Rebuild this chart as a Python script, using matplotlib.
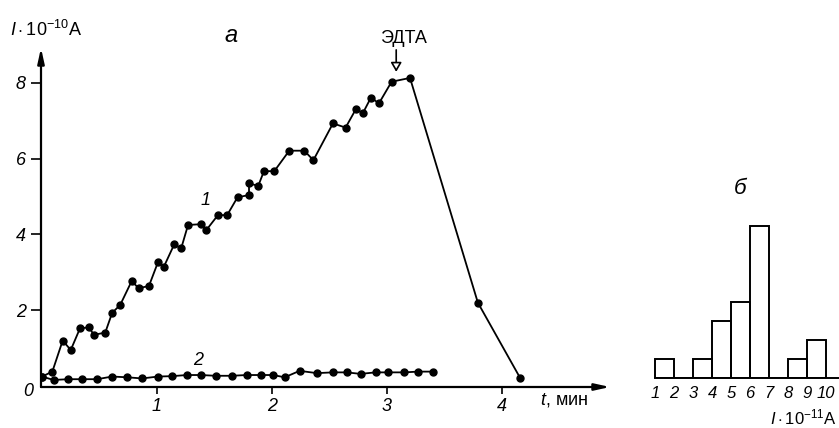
import matplotlib
matplotlib.use("Agg")
import matplotlib.pyplot as plt

plt.rcParams['font.family'] = ['Liberation Sans', 'DejaVu Sans']
plt.rcParams['mathtext.fontset'] = 'custom'
plt.rcParams['mathtext.rm'] = 'Liberation Sans'
plt.rcParams['mathtext.it'] = 'Liberation Sans:italic'

# ---- panel a: current vs time ----
t1 = [0.0, 0.09, 0.18, 0.25, 0.33, 0.41, 0.45, 0.55, 0.61, 0.68, 0.78, 0.84, 0.93,
      1.01, 1.06, 1.15, 1.21, 1.27, 1.38, 1.43, 1.53, 1.61, 1.70, 1.80, 1.80, 1.88,
      1.93, 2.02, 2.15, 2.28, 2.36, 2.53, 2.64, 2.73, 2.79, 2.86, 2.93, 3.04, 3.20,
      3.79, 4.16]
i1 = [0.25, 0.38, 1.20, 0.95, 1.52, 1.55, 1.35, 1.41, 1.93, 2.14, 2.77, 2.58, 2.64,
      3.28, 3.15, 3.74, 3.63, 4.25, 4.27, 4.12, 4.51, 4.51, 4.98, 5.04, 5.35, 5.28,
      5.67, 5.67, 6.21, 6.21, 5.96, 6.93, 6.82, 7.31, 7.20, 7.61, 7.46, 8.03, 8.13,
      2.20, 0.20]
t2 = [0.0, 0.10, 0.23, 0.35, 0.48, 0.61, 0.74, 0.87, 1.01, 1.13, 1.26, 1.38, 1.51,
      1.65, 1.78, 1.90, 2.01, 2.11, 2.24, 2.39, 2.53, 2.65, 2.77, 2.90, 3.01, 3.15,
      3.27, 3.40]
i2 = [0.25, 0.16, 0.18, 0.18, 0.18, 0.25, 0.23, 0.20, 0.25, 0.26, 0.29, 0.29, 0.27,
      0.27, 0.29, 0.29, 0.29, 0.23, 0.40, 0.34, 0.36, 0.36, 0.32, 0.36, 0.36, 0.36,
      0.38, 0.38]
x_ticks = [1, 2, 3, 4]
y_ticks = [2, 4, 6, 8]
edta_t, edta_i = 3.08, 8.29

# ---- panel б: histogram ----
bin_left = [1, 2, 3, 4, 5, 6, 7, 8, 9]
counts = [1, 0, 1, 3, 4, 8, 0, 1, 2]
hist_ticks = [1, 2, 3, 4, 5, 6, 7, 8, 9, 10]

W, H = 839, 428
fig = plt.figure(figsize=(W / 100, H / 100), dpi=100)

def frac(l, r, b, t):
    return [l / W, 1 - b / H, (r - l) / W, (b - t) / H]

ax = fig.add_axes(frac(41, 610, 387, 48))
ax.set_xlim(-0.0087, 4.939)
ax.set_ylim(-0.026, 8.92)
for s in ax.spines.values():
    s.set_visible(False)
lw = 1.3
ax.plot(t1, i1, '-', color='black', lw=lw, marker='o', ms=5, zorder=3)
ax.plot(t2, i2, '-', color='black', lw=lw, marker='o', ms=5, zorder=3)

# axis arrows
ax.annotate('', xy=(1.0, 0), xycoords='axes fraction', xytext=(0, 0),
            arrowprops=dict(arrowstyle='-|>,head_length=0.9,head_width=0.2',
                            color='black', lw=1.6, shrinkA=0, shrinkB=0))
ax.annotate('', xy=(0, 1.0), xycoords='axes fraction', xytext=(0, 0),
            arrowprops=dict(arrowstyle='-|>,head_length=0.9,head_width=0.2',
                            color='black', lw=1.6, shrinkA=0, shrinkB=0))

ax.set_xticks(x_ticks)
ax.set_xticklabels([str(v) for v in x_ticks], fontstyle='italic', fontsize=13)
ax.set_yticks(y_ticks)
ax.set_yticklabels([str(v) for v in y_ticks], fontstyle='italic', fontsize=13)
ax.tick_params(axis='x', direction='out', length=5, width=1.2, pad=3)
ax.tick_params(axis='y', direction='out', length=7, width=1.2, pad=4)

ax.text(-0.12, -0.15, '0', fontstyle='italic', fontsize=13, ha='center', va='center')
ax.text(1.42, 4.9, '1', fontstyle='italic', fontsize=13, ha='center', va='center')
ax.text(1.36, 0.67, '2', fontstyle='italic', fontsize=13, ha='center', va='center')
ax.text(1.64, 9.26, 'а', fontstyle='italic', fontsize=17, ha='center', va='center',
        clip_on=False)
ax.annotate('', xy=(edta_t, edta_i), xytext=(edta_t, 8.87),
            arrowprops=dict(arrowstyle='-|>,head_length=0.55,head_width=0.32',
                            fc='white', ec='black', lw=1.2,
                            shrinkA=0, shrinkB=0))
ax.text(edta_t + 0.06, 9.18, 'ЭДТА', ha='center', va='center', fontsize=13,
        clip_on=False)

fig.text(10 / W, 1 - 30 / H, r'$I\cdot10^{-10}$A', fontsize=13, ha='left', va='center')
fig.text(540 / W, 1 - 400 / H, r'$t$, мин', fontsize=13, ha='left', va='center')

# histogram
ax2 = fig.add_axes(frac(645, 839, 378, 150))
ax2.set_xlim(0.47, 10.68)
ax2.set_ylim(0, 12)
for k in ['top', 'right', 'left']:
    ax2.spines[k].set_visible(False)
ax2.spines['bottom'].set_bounds(1, 10.68)
ax2.spines['bottom'].set_linewidth(1.4)
ax2.bar(bin_left, counts, width=1, align='edge', fill=False, edgecolor='black',
        linewidth=1.4)
ax2.set_yticks([])
ax2.set_xticks(hist_ticks)
ax2.set_xticklabels([str(v) for v in hist_ticks], fontstyle='italic', fontsize=12)
ax2.tick_params(axis='x', length=0, pad=6)
ax2.text(5.5, 10.0, 'б', fontstyle='italic', fontsize=16, ha='center', va='center',
         clip_on=False)
fig.text(837 / W, 1 - 417 / H, r'$I\cdot10^{-11}$A', fontsize=12, ha='right', va='center')

fig.savefig('out.png', dpi=100, facecolor='white')
